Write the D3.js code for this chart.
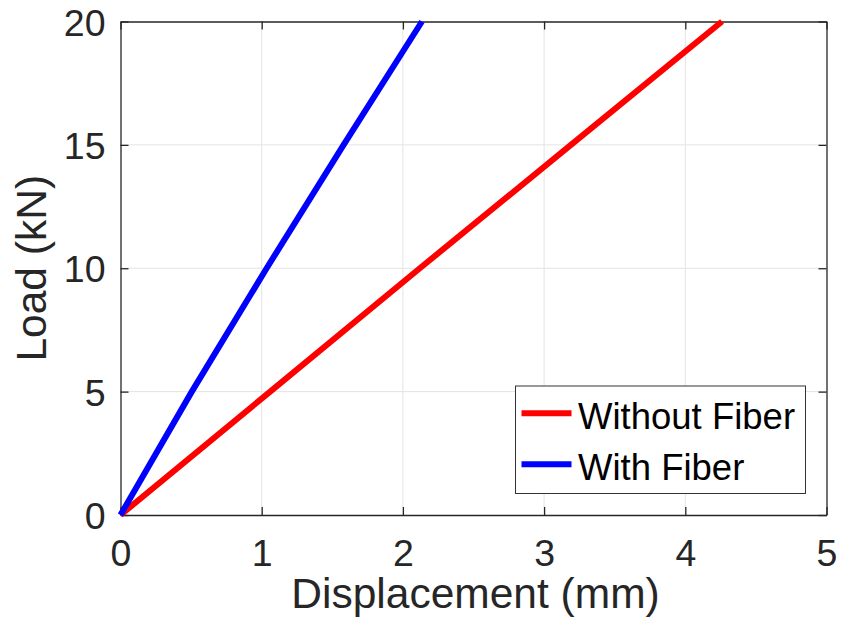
<!DOCTYPE html>
<html><head><meta charset="utf-8">
<script src="https://cdn.jsdelivr.net/npm/d3@7"></script>
<style>body{margin:0;background:#fff;} svg{display:block;} text{font-family:"Liberation Sans",Arial,Helvetica,sans-serif;}</style>
</head><body>
<svg id="c" width="841" height="636"></svg>
<script>
const xTicks = [0,1,2,3,4,5];
const yTicks = [0,5,10,15,20];
const seriesNames = ["Without Fiber","With Fiber"];
const seriesColors = ["#ff0000","#0000ff"];
const loadValues = [0,5,10,15,20];
const dispWithout = [0,1.06,2.12,3.19,4.26];
const dispWith = [0,0.505,1.035,1.58,2.135];

const svg = d3.select("#c");
const L=120.5, R=826.5, T=21.5, B=515;
const x = d3.scaleLinear().domain([0,5]).range([L,R]);
const y = d3.scaleLinear().domain([0,20]).range([B,T]);
const axisColor="#262626";

// grid
const g = svg.append("g");
g.selectAll(".gx").data(xTicks.slice(1,-1)).enter().append("line")
  .attr("x1",d=>x(d)).attr("x2",d=>x(d)).attr("y1",T).attr("y2",B)
  .attr("stroke","#e3e3e3").attr("stroke-width",1);
g.selectAll(".gy").data(yTicks.slice(1,-1)).enter().append("line")
  .attr("y1",d=>y(d)).attr("y2",d=>y(d)).attr("x1",L).attr("x2",R)
  .attr("stroke","#e3e3e3").attr("stroke-width",1);

// axes
const tl = 8;
const xa = svg.append("g").attr("transform",`translate(0,${B})`)
  .call(d3.axisBottom(x).tickValues(xTicks).tickSizeInner(-tl).tickSizeOuter(0).tickPadding(16).tickFormat(d3.format("d")));
const xaT = svg.append("g").attr("transform",`translate(0,${T})`)
  .call(d3.axisTop(x).tickValues(xTicks).tickSizeInner(-tl).tickSizeOuter(0).tickFormat(""));
const ya = svg.append("g").attr("transform",`translate(${L},0)`)
  .call(d3.axisLeft(y).tickValues(yTicks).tickSizeInner(-tl).tickSizeOuter(0).tickPadding(16).tickFormat(d3.format("d")));
const yaR = svg.append("g").attr("transform",`translate(${R},0)`)
  .call(d3.axisRight(y).tickValues(yTicks).tickSizeInner(-tl).tickSizeOuter(0).tickFormat(""));
[xa,xaT,ya,yaR].forEach(a=>{
  a.selectAll("path").attr("stroke",axisColor).attr("stroke-width",1.3);
  a.selectAll("line").attr("stroke",axisColor).attr("stroke-width",1.3);
  a.selectAll("text").attr("fill",axisColor).attr("font-size",37.5).attr("font-family","Liberation Sans, Arial, sans-serif");
});
xa.selectAll("text").attr("dy","0.71em").attr("y",24);
ya.selectAll("text").attr("x",-15).attr("dy","0.36em");

// lines
const line = d3.line().x(d=>x(d[0])).y(d=>y(d[1]));
const series = [dispWithout, dispWith];
series.forEach((s,i)=>{
  svg.append("path").datum(s.map((v,j)=>[v,loadValues[j]]))
    .attr("d",line).attr("fill","none").attr("stroke",seriesColors[i])
    .attr("stroke-width",6).attr("stroke-linejoin","round");
});

// axis labels
svg.append("text").attr("x",(L+R)/2+2).attr("y",608).attr("text-anchor","middle")
  .attr("font-size",42.5).attr("fill",axisColor).text("Displacement (mm)");
svg.append("text").attr("transform",`translate(46,${(T+B)/2}) rotate(-90)`).attr("text-anchor","middle")
  .attr("font-size",42.5).attr("fill",axisColor).text("Load (kN)");

// legend
const lg = svg.append("g");
lg.append("rect").attr("x",515.5).attr("y",386).attr("width",290).attr("height",107.5)
  .attr("fill","#fff").attr("stroke","#333").attr("stroke-width",1);
const ly=[413.3,464.3];
seriesNames.forEach((n,i)=>{
  lg.append("line").attr("x1",521.5).attr("x2",571.5).attr("y1",ly[i]).attr("y2",ly[i])
    .attr("stroke",seriesColors[i]).attr("stroke-width",6);
  lg.append("text").attr("x",578).attr("y",ly[i]+16).attr("font-size",36.5).attr("fill","#000").text(n);
});
</script>
</body></html>
